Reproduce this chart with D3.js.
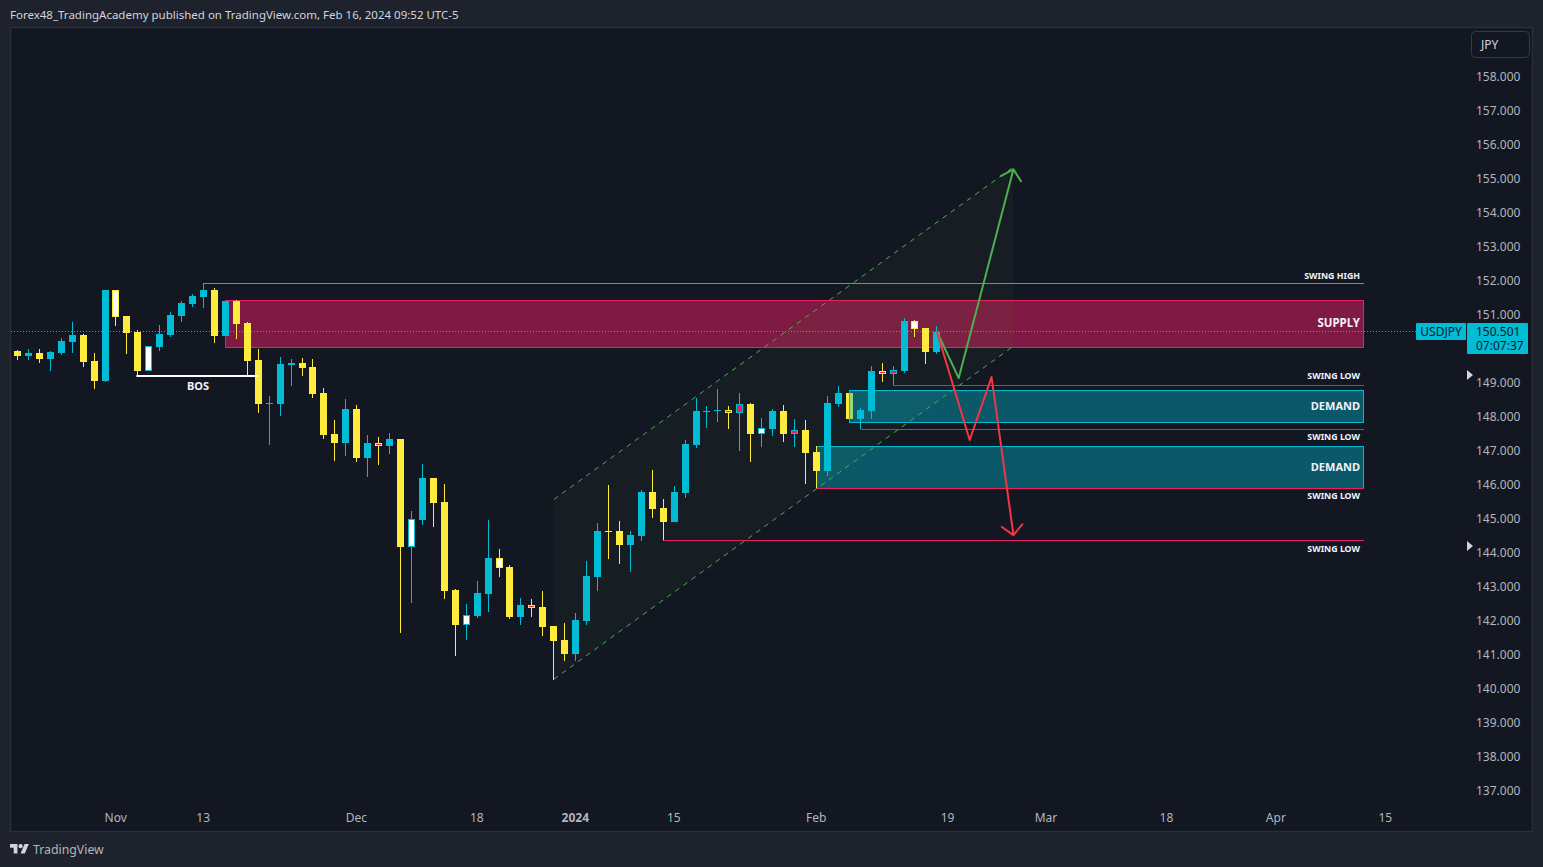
<!DOCTYPE html>
<html>
<head>
<meta charset="utf-8">
<script src="https://cdn.jsdelivr.net/npm/d3@7/dist/d3.min.js"></script>
<style>
html,body{margin:0;padding:0;background:#1e222d;overflow:hidden}
svg{display:block}
text{font-family:"Noto Sans",sans-serif}
</style>
</head>
<body>
<svg id="chart" width="1543" height="867"></svg>
<script>
// ---------- data (prices) ----------
const opens = [149.93,149.78,149.87,149.69,149.87,150.19,150.40,149.63,149.04,151.72,150.96,150.49,149.34,150.04,150.40,150.96,151.31,151.51,151.72,150.37,151.40,150.75,149.66,148.37,148.37,149.51,149.57,149.46,148.69,147.49,147.22,148.22,146.78,147.22,147.13,147.34,144.16,144.96,146.19,145.49,142.90,141.87,142.13,142.78,143.84,143.57,142.10,142.46,142.40,141.84,141.43,141.01,141.99,143.28,144.63,144.63,144.22,144.49,145.78,145.31,144.90,145.75,147.16,148.13,148.16,148.19,148.10,148.37,147.49,147.63,148.16,147.49,147.60,146.96,146.40,148.37,148.69,147.93,148.16,149.34,149.25,149.34,150.81,150.60,149.90];
const highs = [149.96,149.99,149.99,149.93,150.31,150.78,150.43,149.87,151.72,151.72,150.96,150.54,150.07,150.69,151.07,151.40,151.60,151.92,151.78,151.40,151.43,150.78,149.99,148.60,149.75,149.69,149.72,149.69,148.84,147.90,148.52,148.34,147.46,147.40,147.52,147.34,145.22,146.60,146.19,146.02,142.93,142.49,143.16,144.96,144.10,143.63,142.66,142.63,142.87,141.84,141.93,142.22,143.75,144.87,145.99,144.93,144.63,145.84,146.43,145.57,145.96,147.31,148.54,148.31,148.81,148.31,148.69,148.40,147.96,148.22,148.34,147.93,147.90,147.13,148.60,148.90,148.69,148.25,149.49,149.57,149.49,150.90,150.84,150.60,150.66];
const lows = [149.66,149.66,149.57,149.34,149.81,149.87,149.46,148.81,149.01,150.66,149.84,149.19,149.34,149.93,150.34,150.78,151.22,151.19,150.16,150.37,150.28,149.19,148.10,147.16,148.02,148.90,149.19,148.54,147.34,146.69,146.84,146.66,146.22,146.57,146.90,141.63,142.52,144.81,144.75,142.63,140.96,141.43,142.07,142.25,143.28,142.04,141.87,142.10,141.54,140.25,140.81,140.81,141.87,142.87,143.81,143.66,143.43,144.34,145.01,144.34,144.90,145.60,147.07,147.66,147.84,147.63,146.99,146.66,147.10,147.43,147.25,147.10,146.02,145.90,146.25,148.28,147.93,147.63,147.93,149.01,148.93,149.28,150.34,149.54,149.84];
const closes = [149.78,149.87,149.69,149.90,150.22,150.40,149.60,149.04,151.72,150.93,150.46,149.34,150.07,150.43,150.99,151.34,151.54,151.72,150.37,151.40,150.72,149.63,148.37,148.40,149.54,149.57,149.43,148.66,147.46,147.22,148.22,146.78,147.22,147.13,147.34,144.16,144.99,146.19,145.46,142.87,141.87,142.16,142.81,143.84,143.54,142.10,142.46,142.37,141.81,141.40,141.01,142.02,143.31,144.63,144.60,144.22,144.51,145.78,145.28,144.90,145.78,147.19,148.16,148.16,148.19,148.10,148.37,147.49,147.66,148.16,147.49,147.60,146.93,146.40,148.40,148.69,147.93,148.19,149.34,149.25,149.37,150.81,150.57,149.90,150.50];
const whiteBodies = [9,12,36,41,44,68,82];
const pinkBodies = [33,47,65,66,71,79,80];

const priceTicks = [158,157,156,155,154,153,152,151,149,148,147,146,145,144,143,142,141,140,139,138,137];
const timeTickBars = [9,17,31,42,51,60,73,85,94,105,115,125];
const timeTickLabels = ["Nov","13","Dec","18","2024","15","Feb","19","Mar","18","Apr","15"];

const lastPrice = 150.50;
const headerText = "Forex48_TradingAcademy published on TradingView.com, Feb 16, 2024 09:52 UTC-5";

// horizontal levels
const levelLowBars = [80,77,73,59];
const levelLowPrices = [148.91,147.62,145.89,144.35];
const levelLowNames = ["SWING LOW","SWING LOW","SWING LOW","SWING LOW"];
const levelLowNamePrices = [149.18,147.39,145.65,144.11];
const swingHighBar = 17, swingHighPrice = 151.90, swingHighNamePrice = 152.14;
const levelEndBar = 122.95;

// zones
const supplyZone = [19,122.95,151.41,150.03];
const demandZoneUpper = [76,122.95,148.77,147.83];
const demandZoneLower = [73,122.95,147.12,145.89];

// channel: bar, upper price, lower price
const channelBars = [49,91];
const channelUpper = [145.56,155.34];
const channelLower = [140.27,150.07];

// projections
const greenPathBars = [84,86,91];
const greenPathPrices = [150.50,149.13,155.27];
const redPathBars = [84,87,89,91];
const redPathPrices = [150.50,147.31,149.16,144.51];

const bosBars = [11,22], bosPrice = 149.19;
const markerPrices = [149.22,144.19];

// ---------- scales ----------
const W = 1543, H = 867;
const C = {bg:"#131722", panel:"#1e222d", edge:"#2a2e39", up:"#00bcd4", down:"#ffeb3b",
           pink:"#e91e63", label:"#b2b5be", green:"#4caf50", red:"#f23645"};
const x = d3.scaleLinear().domain([0,100]).range([17.46,17.46+1094.5]);
const y = d3.scaleLinear().domain([137,158]).range([790.5,76.5]);
const snap = v => Math.floor(v)+0.5;
const snapR = v => Math.round(v)+0.5;

const svg = d3.select("#chart");
svg.append("rect").attr("width",W).attr("height",H).attr("fill",C.panel);
svg.append("rect").attr("x",10.5).attr("y",27.5).attr("width",1522).attr("height",804)
   .attr("fill",C.bg).attr("stroke",C.edge).attr("stroke-width",1.5);

svg.append("text").attr("x",10).attr("y",19).attr("font-size",11.5).attr("fill","#d1d4dc").text(headerText);

function zone(z,fill,stroke){
  const [a,b,t,u]=z;
  return svg.append("rect")
    .attr("x",snapR(x(a))).attr("y",snap(y(t)))
    .attr("width",snapR(x(b))-snapR(x(a))).attr("height",Math.round(y(u)-y(t)))
    .attr("fill",fill).attr("stroke",stroke).attr("stroke-width",1);
}

// supply, lower demand
zone(supplyZone,"rgba(233,30,99,.5)",C.pink);
zone(demandZoneLower,"rgba(0,188,212,.4)",C.up);

// channel fill
const bandArea = d3.area().x(d=>x(d[0])).y0(d=>y(d[2])).y1(d=>y(d[1]));
const channelData = channelBars.map((b,i)=>[b,channelUpper[i],channelLower[i]]);
svg.append("path").attr("d",bandArea(channelData)).attr("fill","rgba(76,175,60,.05)");

// last price dotted line
svg.append("line").attr("x1",11).attr("x2",1416).attr("y1",snap(y(lastPrice))).attr("y2",snap(y(lastPrice)))
   .attr("stroke",C.up).attr("stroke-width",1).attr("stroke-dasharray","1 2");

// candles
const bars = opens.map((o,i)=>({i,o,h:highs[i],l:lows[i],c:closes[i]}));
const candle = svg.append("g").selectAll("g").data(bars).join("g");
const colorOf = d => d.c>=d.o ? C.up : C.down;
candle.append("rect")
  .attr("x",d=>Math.floor(x(d.i))).attr("width",1)
  .attr("y",d=>Math.round(y(d.h))).attr("height",d=>Math.max(1,Math.round(y(d.l))-Math.round(y(d.h))))
  .attr("fill",colorOf);
candle.append("rect")
  .attr("x",d=>Math.floor(x(d.i))-3).attr("width",7)
  .attr("y",d=>Math.round(y(Math.max(d.o,d.c))))
  .attr("height",d=>Math.max(1,Math.round(y(Math.min(d.o,d.c)))-Math.round(y(Math.max(d.o,d.c)))))
  .attr("fill",colorOf);
// bodies with a different inner fill
candle.filter(d=>whiteBodies.includes(d.i)||pinkBodies.includes(d.i)).append("rect")
  .attr("x",d=>Math.floor(x(d.i))-2).attr("width",5)
  .attr("y",d=>Math.round(y(Math.max(d.o,d.c)))+1)
  .attr("height",d=>Math.max(1,Math.round(y(Math.min(d.o,d.c)))-Math.round(y(Math.max(d.o,d.c)))-2))
  .attr("fill",d=>whiteBodies.includes(d.i)?"#ffffff":C.pink);

// upper demand sits above the candles
zone(demandZoneUpper,"rgba(0,188,212,.4)",C.up);

// swing levels
function hline(a,b,p,col,w){
  svg.append("line").attr("x1",x(a)).attr("x2",snapR(x(b))+.5).attr("y1",snap(y(p))).attr("y2",snap(y(p)))
     .attr("stroke",col).attr("stroke-width",w||1);
}
hline(swingHighBar,levelEndBar,swingHighPrice,C.up);
levelLowBars.forEach((b,i)=>hline(b,levelEndBar,levelLowPrices[i],C.pink));

// BOS
svg.append("line").attr("x1",x(bosBars[0])-1.5).attr("x2",x(bosBars[1])).attr("y1",y(bosPrice)).attr("y2",y(bosPrice))
   .attr("stroke","#ffffff").attr("stroke-width",2);
svg.append("text").attr("x",198).attr("y",y(bosPrice)+14).attr("text-anchor","middle")
   .attr("font-size",11).attr("font-weight",700).attr("fill","#f0f3fa").text("BOS");

// channel dashed edges
const edge = d3.line().x(d=>x(d[0])).y(d=>y(d[1]));
[channelUpper,channelLower].forEach(arr=>{
  svg.append("path").attr("d",edge(channelBars.map((b,i)=>[b,arr[i]])))
     .attr("fill","none").attr("stroke",C.green).attr("stroke-width",1).attr("stroke-dasharray","5 5");
});

// projected paths with arrow heads
function projection(barsArr,prices,col){
  const pts = barsArr.map((b,i)=>[x(b),y(prices[i])]);
  const pathLine = d3.line();
  svg.append("path").attr("d",pathLine(pts)).attr("fill","none").attr("stroke",col).attr("stroke-width",2).attr("stroke-linejoin","round");
  const p1=pts[pts.length-2], p2=pts[pts.length-1];
  const ang=Math.atan2(p1[1]-p2[1],p1[0]-p2[0]), len=15, spread=47*Math.PI/180;
  const wing=s=>[p2[0]+len*Math.cos(ang+s*spread),p2[1]+len*Math.sin(ang+s*spread)];
  svg.append("path").attr("d",pathLine([wing(1),p2,wing(-1)])).attr("fill","none").attr("stroke",col).attr("stroke-width",2).attr("stroke-linejoin","round");
}
projection(greenPathBars,greenPathPrices,C.green);
projection(redPathBars,redPathPrices,C.red);

// zone and level captions
const capRight = 1360;
function caption(price,label,size){
  svg.append("text").attr("x",capRight).attr("y",y(price)).attr("dy",".35em").attr("text-anchor","end")
     .attr("font-size",size).attr("font-weight",700).attr("fill","#f0f3fa").text(label);
}
caption(swingHighNamePrice,"SWING HIGH",8.8);
levelLowNames.forEach((n,i)=>caption(levelLowNamePrices[i],n,8.8));
caption((supplyZone[2]+supplyZone[3])/2+0.03,"SUPPLY",11.5);
caption((demandZoneUpper[2]+demandZoneUpper[3])/2+0.01,"DEMAND",11);
caption((demandZoneLower[2]+demandZoneLower[3])/2+0.01,"DEMAND",11);

// axes
const yAxis = d3.axisRight(y).tickValues(priceTicks).tickFormat(d3.format(".3f")).tickSize(0).tickPadding(0);
const yG = svg.append("g").attr("transform","translate(1476,0)").call(yAxis);
yG.select(".domain").remove();
yG.selectAll("text").attr("font-size",12).attr("fill",C.label).style("font-family",'"Noto Sans",sans-serif');

const xAxis = d3.axisBottom(x).tickValues(timeTickBars).tickFormat((d,i)=>timeTickLabels[i]).tickSize(0).tickPadding(0);
const xG = svg.append("g").attr("transform","translate(-0.8,813)").call(xAxis);
xG.select(".domain").remove();
xG.selectAll("text").attr("font-size",12).attr("fill",C.label).style("font-family",'"Noto Sans",sans-serif')
  .attr("font-weight",d=>timeTickLabels[timeTickBars.indexOf(d)]==="2024"?700:400);

// side markers
svg.selectAll(".mark").data(markerPrices).join("path").attr("class","mark")
  .attr("d",d=>{const p=d3.path(),c=y(d);p.moveTo(1467,c-5);p.lineTo(1473,c);p.lineTo(1467,c+5);p.closePath();return p.toString();})
  .attr("fill","#d1d4dc");

// price tags
svg.append("rect").attr("x",1416).attr("y",323).attr("width",50).attr("height",17).attr("rx",1).attr("fill",C.up);
svg.append("text").attr("x",1441).attr("y",336).attr("text-anchor","middle").attr("font-size",12).attr("fill",C.bg).text("USDJPY");
svg.append("rect").attr("x",1467).attr("y",323).attr("width",61).attr("height",31).attr("rx",1).attr("fill",C.up);
svg.append("text").attr("x",1476).attr("y",336).attr("font-size",12).attr("fill",C.bg).text("150.501");
svg.append("text").attr("x",1476).attr("y",350).attr("font-size",12).attr("fill",C.bg).text("07:07:37");

// currency button
svg.append("rect").attr("x",1471.5).attr("y",31.5).attr("width",58).attr("height",26).attr("rx",4)
   .attr("fill",C.bg).attr("stroke","#363a45");
svg.append("text").attr("x",1481).attr("y",49).attr("font-size",12).attr("fill","#d1d4dc").text("JPY");

// footer logo
const logo = svg.append("g").attr("transform","translate(10,841.9) scale(.53)").attr("fill","#d1d4dc");
logo.append("path").attr("d","M14 22H7V11H0V4h14v18zM28 22h-8l7.5-18h8L28 22z");
logo.append("circle").attr("cx",20).attr("cy",8).attr("r",4);
svg.append("text").attr("x",33).attr("y",854).attr("font-size",12.3).attr("fill","#b2b5be").text("TradingView");
</script>
</body>
</html>
